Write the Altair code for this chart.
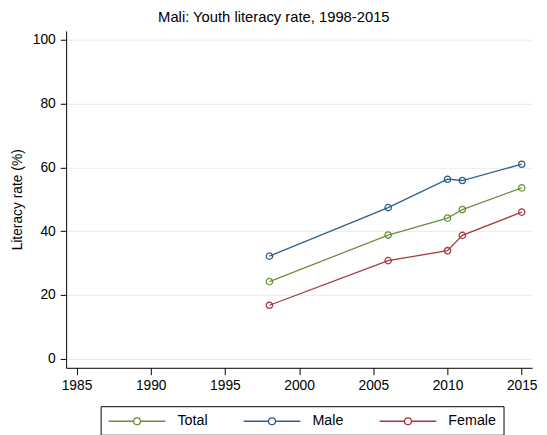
import altair as alt
import pandas as pd

years = [1998, 2006, 2010, 2011, 2015]
total = [24.2, 38.8, 44.1, 46.8, 53.6]
male = [32.2, 47.4, 56.3, 55.9, 61.0]
female = [16.8, 30.8, 33.9, 38.7, 46.0]

series = ["Total", "Male", "Female"]
colors = ["#6a8e3b", "#2c5f8e", "#a8383f"]

rows = []
for name, vals in zip(series, [total, male, female]):
    for y, v in zip(years, vals):
        rows.append({"year": y, "rate": v, "series": name})
df = pd.DataFrame(rows)

FONT = "Liberation Sans"

legend_path = "M-4.1,0H-0.5M0.5,0H4.1M0.5,0A0.5,0.5,0,1,1,-0.5,0A0.5,0.5,0,1,1,0.5,0Z"

color = alt.Color(
    "series:N",
    scale=alt.Scale(domain=series, range=colors),
    sort=series,
    legend=alt.Legend(
        title=None,
        orient="none",
        legendX=35,
        legendY=381,
        direction="horizontal",
        symbolType=legend_path,
        symbolSize=196,
        symbolStrokeWidth=1.3,
        symbolFillColor="white",
        symbolOffset=22,
        labelOffset=33,
        columnPadding=33,
        labelFont=FONT,
        labelFontSize=14.5,
        labelColor="black",
        strokeColor="black",
        padding=7,
    ),
)

x = alt.X(
    "year:Q",
    scale=alt.Scale(domain=[1984.3, 2015.7], nice=False, zero=False),
    axis=alt.Axis(
        title=None,
        values=[1985, 1990, 1995, 2000, 2005, 2010, 2015],
        format="d",
        grid=False,
        tickSize=7,
        labelPadding=4,
    ),
)
y = alt.Y(
    "rate:Q",
    scale=alt.Scale(domain=[-2.8, 102.8], nice=False, zero=False),
    axis=alt.Axis(
        title="Literacy rate (%)",
        values=[0, 20, 40, 60, 80, 100],
        grid=True,
        gridColor="#eaeaea",
        tickSize=6,
        labelPadding=5,
        titlePadding=8,
        labelAngle=0,
    ),
)

base = alt.Chart(df)
lines = base.mark_line(strokeWidth=1.3).encode(x=x, y=y, color=color, detail="series:N")
points = base.mark_point(filled=False, size=42, strokeWidth=1.3, opacity=1).encode(
    x=x, y=y, color=color
)

chart = (
    alt.layer(lines, points)
    .properties(
        width=473,
        height=342,
        background="white",
        title=alt.TitleParams(
            "Mali: Youth literacy rate, 1998-2015",
            font=FONT,
            fontSize=15,
            fontWeight="normal",
            color="black",
            anchor="middle",
            frame="bounds",
            offset=6,
        ),
        autosize=alt.AutoSizeParams(type="none"),
        padding={"left": 59, "top": 20, "right": 7, "bottom": 65},
    )
    .configure_view(stroke=None)
    .configure_axis(
        labelFont=FONT,
        labelFontSize=14,
        labelColor="black",
        titleFont=FONT,
        titleFontSize=14,
        titleFontWeight="normal",
        titleColor="black",
        domainColor="black",
        tickColor="black",
        domainWidth=1,
        tickWidth=1,
    )
)

chart.save("out.html", embed_options={"renderer": "svg", "actions": False})
